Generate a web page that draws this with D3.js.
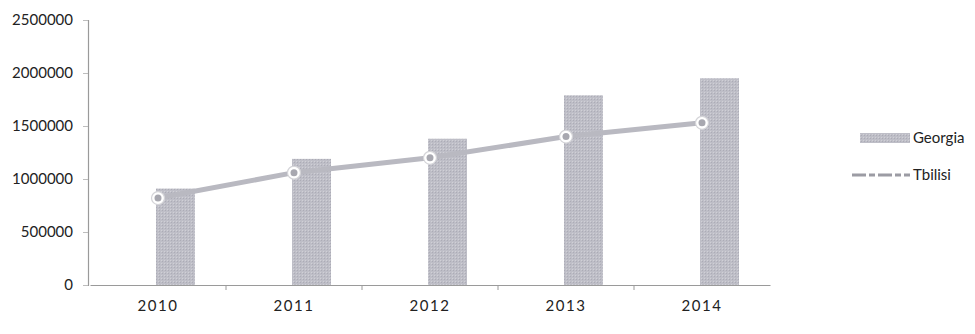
<!DOCTYPE html>
<html>
<head>
<meta charset="utf-8">
<script src="https://cdn.jsdelivr.net/npm/d3@7"></script>
<style>
  html, body { margin: 0; padding: 0; background: #fff; }
  svg { display: block; }
  text { font-family: Lato, "Open Sans", sans-serif; fill: #222; }
</style>
</head>
<body>
<svg id="chart" width="975" height="334"></svg>
<script>
const years = ["2010", "2011", "2012", "2013", "2014"];
const georgia = [910000, 1190000, 1380000, 1790000, 1950000];
const tbilisi = [820000, 1060000, 1200000, 1400000, 1530000];
const yTicks = [0, 500000, 1000000, 1500000, 2000000, 2500000];
const seriesNames = ["Georgia", "Tbilisi"];

const svg = d3.select("#chart");
const x = d3.scaleBand().domain(years).range([90, 770]).padding(0);
const y = d3.scaleLinear().domain([0, 2500000]).range([285, 20]);

const barColor = "#bebec7";
const lineColor = "#b9b9c1";

const defs = svg.append("defs");
const pat = defs.append("pattern").attr("id", "dots").attr("width", 3).attr("height", 3)
  .attr("patternUnits", "userSpaceOnUse");
pat.append("rect").attr("width", 3).attr("height", 3).attr("fill", barColor);
pat.append("rect").attr("width", 1).attr("height", 1).attr("fill", "#acacb6");
pat.append("rect").attr("x", 2).attr("y", 2).attr("width", 1).attr("height", 1).attr("fill", "#d0d0d6");

// Y axis
const yAxis = d3.axisLeft(y).tickValues(yTicks).tickSize(5).tickPadding(10).tickFormat(d3.format("d"));
const gy = svg.append("g").attr("transform", "translate(88,0)").call(yAxis);
gy.select(".domain").attr("stroke", "#9a9a9a").attr("stroke-width", 1.2);
gy.selectAll(".tick line").attr("stroke", "#bdbdbd");
gy.selectAll(".tick text").style("font-size", "15px").attr("fill", "#1e1e1e");

// Bars (Georgia)
svg.append("g").selectAll("rect").data(years).join("rect")
  .attr("x", d => x(d) + x.bandwidth() / 2 - 2)
  .attr("y", (d, i) => y(georgia[i]))
  .attr("width", 39)
  .attr("height", (d, i) => y(0) - y(georgia[i]))
  .attr("fill", "url(#dots)");

// X axis
const xAxis = d3.axisBottom(x).tickSize(0).tickPadding(15);
const gx = svg.append("g").attr("transform", `translate(0,${y(0)})`).call(xAxis);
gx.select(".domain").attr("stroke", "#9a9a9a").attr("stroke-width", 1.2);
gx.selectAll(".tick text").style("font-size", "15px").style("letter-spacing", "1.5px").attr("fill", "#1e1e1e");
gx.selectAll(".bound").data(years.slice(1)).join("line")
  .attr("class", "bound")
  .attr("x1", d => x(d)).attr("x2", d => x(d))
  .attr("y1", 0).attr("y2", 5)
  .attr("stroke", "#9a9a9a");

// Line (Tbilisi)
const line = d3.line()
  .x((d, i) => x(years[i]) + x.bandwidth() / 2)
  .y(d => y(d));
svg.append("path").datum(tbilisi)
  .attr("d", line)
  .attr("fill", "none")
  .attr("stroke", lineColor)
  .attr("stroke-width", 5);

const pts = svg.append("g").selectAll("g").data(tbilisi).join("g")
  .attr("transform", (d, i) => `translate(${x(years[i]) + x.bandwidth() / 2},${y(d)})`);
pts.append("circle").attr("r", 6.5).attr("fill", "#fff").attr("stroke", "#d4d4d8").attr("stroke-width", 1.2);
pts.append("circle").attr("r", 3.5).attr("fill", "#a8a8b0");

// Legend
const lg = svg.append("g");
lg.append("rect").attr("x", 860).attr("y", 133).attr("width", 50).attr("height", 10).attr("fill", "url(#dots)");
lg.append("text").attr("x", 913).attr("y", 143).text(seriesNames[0]).style("font-size", "15px").attr("fill", "#333");
lg.append("line").attr("x1", 852).attr("x2", 910).attr("y1", 175).attr("y2", 175)
  .attr("stroke", "#9c9ca4").attr("stroke-width", 3).attr("stroke-dasharray", "14,3,6,3");
lg.append("text").attr("x", 913).attr("y", 180).text(seriesNames[1]).style("font-size", "15px").attr("fill", "#333");
</script>
</body>
</html>
